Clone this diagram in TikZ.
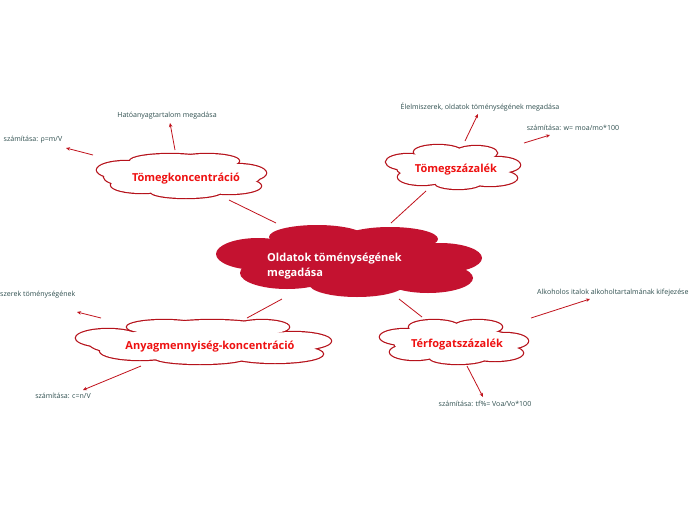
\documentclass[tikz,border=0pt]{standalone}
\usepackage{fontspec}
\setmainfont{Open Sans}
\usetikzlibrary{arrows.meta}
\definecolor{crimson}{HTML}{C41230}
\definecolor{bord}{HTML}{B5121B}
\definecolor{redtxt}{HTML}{EE1111}
\definecolor{lbl}{HTML}{2F4F4F}
\definecolor{lnk}{HTML}{C0121C}
\tikzset{
  cloudborder/.style={draw=bord, line width=2.4pt},
  title/.style={font=\fontsize{11}{13}\selectfont\bfseries, text=redtxt, inner sep=0pt},
  maintitle/.style={font=\fontsize{11}{15}\selectfont\bfseries, text=white, align=left, inner sep=0pt},
  lbltext/.style={font=\fontsize{7.05}{8}\selectfont, text=lbl, inner sep=0pt},
  link/.style={draw=lnk, line width=0.8pt},
  arr/.style={draw=lnk, line width=0.8pt, -{Stealth[length=4pt,width=3.5pt]}},
}
\newcommand{\whitecloud}[1]{%
  \foreach \cx/\cy/\rx/\ry in {#1} {\draw[cloudborder] (\cx,\cy) ellipse [x radius=\rx pt, y radius=\ry pt];}
  \foreach \cx/\cy/\rx/\ry in {#1} {\fill[white] (\cx,\cy) ellipse [x radius=\rx pt, y radius=\ry pt];}
}
\begin{document}
\begin{tikzpicture}[x=1pt,y=-1pt]
\useasboundingbox (0,0) rectangle (696,520);
% central cloud
\foreach \cx/\cy/\rx/\ry in {317/237/48/12, 390/239/48/12, 258/254/42/16, 440/258/42/15, 287/273/47/16, 357/284/48/13, 428/278/45/15, 350/260/105/24}
  {\fill[crimson] (\cx,\cy) ellipse [x radius=\rx pt, y radius=\ry pt];}
\node[maintitle, anchor=west] (main) at (267,266) {Oldatok töménységének\\megadása};

% Tömegkoncentráció
\whitecloud{170/161/40/7, 207/161/32/7, 126/170/29/9, 237/173/29/9, 142/185/31/8, 186/192/35/6, 229/186/32/8, 182/177/78/14}
\node[title] (tk) at (186,179) {Tömegkoncentráció};

% Tömegszázalék
\whitecloud{438/152/24/7, 476/153/21/7, 408/162/22/8, 497/165/23/8, 422/177/24/8, 458/183/23/6, 490/178/27/8, 453/168/56/14}
\node[title] (tsz) at (456,170) {Tömegszázalék};

% Anyagmennyiség-koncentráció
\whitecloud{164/327/37/7, 262/327/27/7, 212/327/50/7, 108/338/32/9, 293/341/38/9, 140/351/40/9, 200/358/45/6, 275/354/48/9, 205/344/115/15}
\node[title] (ak) at (210,347) {Anyagmennyiség-koncentráció};

% Térfogatszázalék
\whitecloud{434/327/25/7, 478/327/24/7, 405/337/25/8, 505/341/23/8, 415/352/25/8, 458/358/28/6, 495/353/28/8, 456/343/62/15}
\node[title] (tf) at (457,345) {Térfogatszázalék};

% links to main
\coordinate (a1) at (229,200); \coordinate (a2) at (276,223);
\coordinate (b1) at (426,191); \coordinate (b2) at (391,223);
\coordinate (c1) at (282,299); \coordinate (c2) at (247,318);
\coordinate (d1) at (399,299); \coordinate (d2) at (422,317);
\draw[link] (a1) -- (a2);
\draw[link] (b1) -- (b2);
\draw[link] (c1) -- (c2);
\draw[link] (d1) -- (d2);

% labels
\node[lbltext] (l1) at (33,140) {számítása: ρ=m/V};
\node[lbltext] (l2) at (167,116) {Hatóanyagtartalom megadása};
\node[lbltext] (l3) at (480,107) {Élelmiszerek, oldatok töménységének megadása};
\node[lbltext] (l4) at (573,128) {számítása: w= moa/mo*100};
\node[lbltext, anchor=west] (l5) at (0,295) {szerek töménységének};
\node[lbltext] (l6) at (63,396) {számítása: c=n/V};
\node[lbltext, anchor=west] (l7) at (537,293) {Alkoholos italok alkoholtartalmának kifejezése};
\node[lbltext] (l8) at (485,404) {számítása: tf\%= Voa/Vo*100};

% arrows
\coordinate (s1) at (93,155); \coordinate (e1) at (66,148);
\coordinate (s2) at (175,150); \coordinate (e2) at (170,123);
\coordinate (s3) at (465,141); \coordinate (e3) at (478,114);
\coordinate (s4) at (524,143); \coordinate (e4) at (550,135);
\coordinate (s5) at (101,318); \coordinate (e5) at (77,312);
\coordinate (s6) at (141,366); \coordinate (e6) at (83,390);
\coordinate (s7) at (531,318); \coordinate (e7) at (590,299);
\coordinate (s8) at (467,366); \coordinate (e8) at (483,397);
\foreach \i in {1,...,8} {\draw[arr] (s\i) -- (e\i);}
\end{tikzpicture}
\end{document}
